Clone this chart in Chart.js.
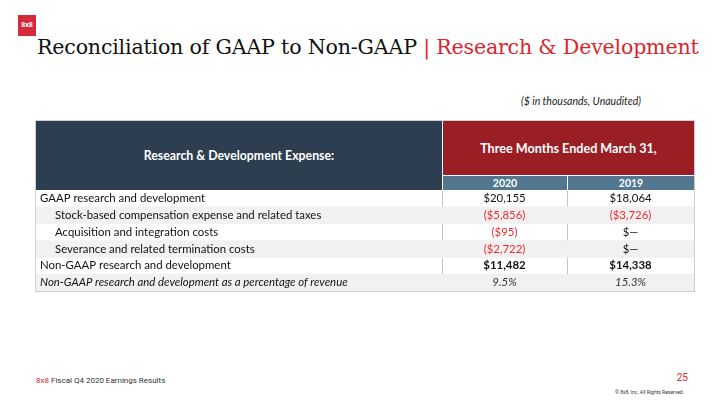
<!DOCTYPE html>
<html>
<head>
<meta charset="utf-8">
<script src="https://cdn.jsdelivr.net/npm/chart.js@4"></script>
<style>
  body { margin: 0; width: 720px; height: 405px; background: #fff; position: relative; overflow: hidden; font-family: Lato, sans-serif; }
  .abs { position: absolute; }
  #logo { left: 18px; top: 15px; width: 18px; height: 21px; background: #d42a3c; color: #fff; font: bold 7px Roboto, sans-serif; text-align: center; line-height: 21px; }
  #title { left: 37px; top: 35px; font-family: "DejaVu Serif", serif; font-size: 20.6px; color: #111; white-space: nowrap; letter-spacing: -0.2px; }
  #title span { color: #d9262e; }
  #sub { left: 500px; top: 95px; width: 162px; text-align: center; font-style: italic; font-size: 10.5px; color: #222; }
  #table { left: 35px; top: 120px; width: 658px; height: 170px; border: 1px solid #cfcfcf; }
  #hdLeft { left: 0; top: 0; width: 406px; height: 69px; background: #2d3e50; color: #fff; font-weight: bold; font-size: 12.3px; display: flex; align-items: center; justify-content: center; }
  #hdRed { left: 407px; top: 0; width: 251px; height: 54px; background: #9b1e24; color: #fff; font-weight: bold; font-size: 12.6px; display: flex; align-items: center; justify-content: center; }
  .hdYear { top: 55px; height: 14px; background: #52778f; color: #fff; font-weight: bold; font-size: 10.5px; text-align: center; line-height: 14px; }
  #body { left: 0; top: 69px; width: 658px; height: 101px; }
  #foot { left: 36px; top: 376px; font: 8px Roboto, sans-serif; color: #333; }
  #foot span { color: #d9262e; }
  #page { left: 660px; top: 372px; width: 28px; text-align: right; font: 10px Roboto, sans-serif; color: #d9262e; }
  #copy { left: 596px; top: 389px; width: 88px; text-align: right; font: 5px Roboto, sans-serif; color: #333; }
</style>
</head>
<body>
<div id="logo" class="abs">8x8</div>
<div id="title" class="abs">Reconciliation of GAAP to Non-GAAP <span>| Research &amp; Development</span></div>
<div id="sub" class="abs">($ in thousands, Unaudited)</div>
<div id="table" class="abs">
  <div id="hdLeft" class="abs">Research &amp; Development Expense:</div>
  <div id="hdRed" class="abs">Three Months Ended March 31,</div>
  <div class="abs hdYear" id="y1" style="left:407px;width:124px"></div>
  <div class="abs hdYear" id="y2" style="left:532px;width:126px"></div>
  <div id="body" class="abs"><canvas id="tbl"></canvas></div>
</div>
<div id="foot" class="abs"><span>8x8</span> Fiscal Q4 2020 Earnings Results</div>
<div id="page" class="abs">25</div>
<div id="copy" class="abs">© 8x8, Inc. All Rights Reserved.</div>

<script>
// donnees du tableau
const years = ["2020", "2019"];
const rowLabels = [
  "GAAP research and development",
  "Stock-based compensation expense and related taxes",
  "Acquisition and integration costs",
  "Severance and related termination costs",
  "Non-GAAP research and development",
  "Non-GAAP research and development as a percentage of revenue"
];
const values2020 = [20155, -5856, -95, -2722, 11482, 9.5];
const values2019 = [18064, -3726, 0, 0, 14338, 15.3];
const rowKind = ["plain", "sub", "sub", "sub", "total", "pct"];

document.getElementById("y1").textContent = years[0];
document.getElementById("y2").textContent = years[1];

// bords des colonnes en pixels du tableau
const colEdges = [0, 406, 531, 658];

function fmt(v, kind) {
  if (kind == "pct") return v.toFixed(1) + "%";
  if (v == 0) return "$\u2014";
  let s = "$" + Math.abs(v).toLocaleString("en-US");
  return v < 0 ? "(" + s + ")" : s;
}

// bandes grises une ligne sur deux
const stripes = rowLabels.map((l, i) => i % 2 == 1 ? [0, colEdges[3]] : null);

const cellText = {
  id: "cellText",
  afterDatasetsDraw(chart) {
    const ctx = chart.ctx, xs = chart.scales.x, ys = chart.scales.y;
    ctx.save();
    ctx.textBaseline = "middle";
    rowLabels.forEach((lab, i) => {
      const y = ys.getPixelForValue(i);
      const kind = rowKind[i];
      ctx.fillStyle = "#111";
      ctx.textAlign = "left";
      ctx.font = (kind == "pct" ? "italic " : "") + "11.4px Lato";
      ctx.fillText(lab, xs.getPixelForValue(colEdges[0]) + 4 + (kind == "sub" ? 15 : 0), y);
      [values2020, values2019].forEach((vals, c) => {
        const v = vals[i];
        const cx = (xs.getPixelForValue(colEdges[c + 1]) + xs.getPixelForValue(colEdges[c + 2])) / 2;
        ctx.textAlign = "center";
        ctx.font = (kind == "total" ? "bold " : kind == "pct" ? "italic " : "") + "11.4px Lato";
        ctx.fillStyle = (v < 0) ? "#ee2a2a" : (kind == "pct" ? "#333" : "#111");
        ctx.fillText(fmt(v, kind), cx, y);
      });
    });
    ctx.restore();
  }
};

new Chart("tbl", {
  type: "bar",
  data: {
    labels: rowLabels,
    datasets: [{
      data: stripes,
      backgroundColor: "#f1f1f1",
      barPercentage: 1,
      categoryPercentage: 1
    }]
  },
  options: {
    indexAxis: "y",
    responsive: true,
    maintainAspectRatio: false,
    animation: false,
    layout: { padding: 0 },
    plugins: { legend: { display: false }, tooltip: { enabled: false } },
    scales: {
      x: {
        type: "linear", min: colEdges[0], max: colEdges[3],
        afterBuildTicks: s => { s.ticks = [{ value: colEdges[1] }, { value: colEdges[2] }]; },
        ticks: { display: false },
        grid: { color: "#c4c4c4", drawTicks: false },
        border: { display: false }
      },
      y: { display: false }
    }
  },
  plugins: [cellText]
});
</script>
</body>
</html>
